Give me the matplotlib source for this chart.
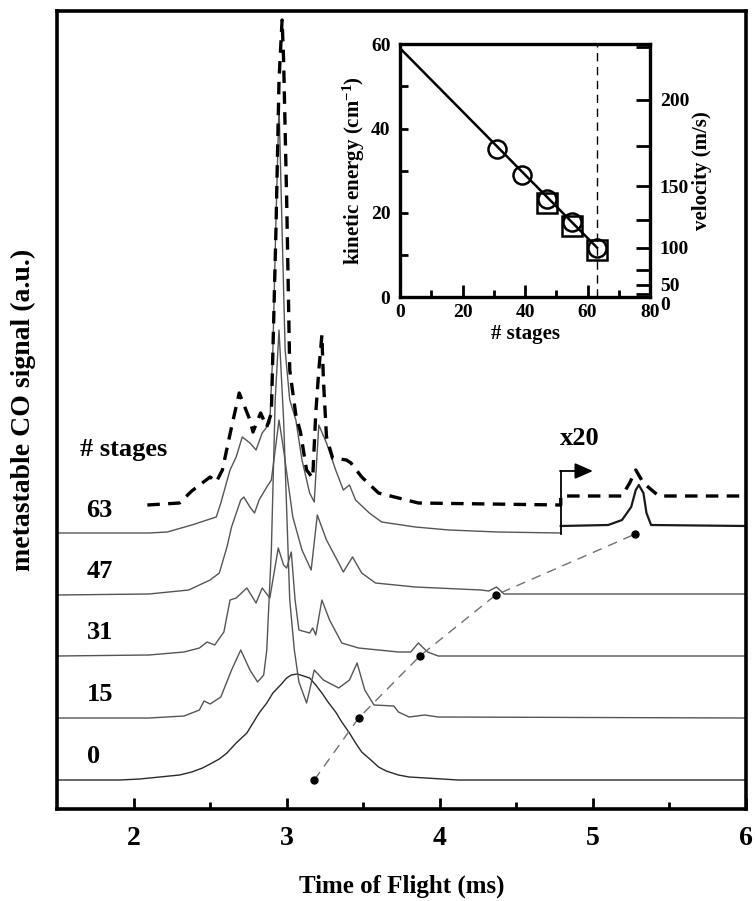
import numpy as np
import matplotlib
matplotlib.use('Agg')
import matplotlib.pyplot as plt

plt.rcParams['font.family'] = ['Liberation Serif', 'DejaVu Serif']
plt.rcParams['font.weight'] = 'bold'
plt.rcParams['axes.labelweight'] = 'bold'
plt.rcParams['mathtext.fontset'] = 'custom'
plt.rcParams['mathtext.rm'] = 'Liberation Serif:bold'
plt.rcParams['mathtext.it'] = 'Liberation Serif:bold'
plt.rcParams['mathtext.bf'] = 'Liberation Serif:bold'
plt.rcParams['mathtext.default'] = 'rm'
plt.rcParams['lines.scale_dashes'] = False

# number of decelerator stages and vertical offset of each trace
stages = ['0', '15', '31', '47', '63']
offsets = [0, 62, 124, 185, 246]

# time of flight traces (ms, signal)
t0 = [1.50, 1.91, 2.04, 2.17, 2.30, 2.38, 2.45, 2.50, 2.56, 2.61, 2.67, 2.74, 2.78, 2.82, 2.87, 2.91,
      2.96, 3.00, 3.03, 3.07, 3.11, 3.15, 3.19, 3.23, 3.27, 3.32, 3.36, 3.41, 3.45, 3.49, 3.55, 3.60,
      3.65, 3.73, 3.80, 3.91, 4.12, 6.0]
s0 = [0, 0, 1, 3, 5, 8, 12, 16, 21, 27, 37, 47, 57, 67, 77, 87,
      95, 102, 105, 106, 104, 102, 95, 87, 78, 68, 58, 47, 37, 28, 20, 13,
      9, 5, 3, 2, 0, 0]

t15 = [1.50, 2.10, 2.33, 2.43, 2.46, 2.50, 2.57, 2.64, 2.70, 2.76, 2.81, 2.85, 2.87, 2.90, 2.925, 2.95,
       2.98, 3.02, 3.05, 3.08, 3.13, 3.15, 3.18, 3.24, 3.34, 3.41, 3.46, 3.51, 3.57, 3.70, 3.73, 3.80,
       3.90, 3.99, 6.0]
s15 = [0, 0, 2, 8, 17, 14, 21, 48, 68, 48, 36, 43, 68, 168, 318, 388,
       298, 118, 68, 36, 15, 28, 48, 38, 30, 38, 55, 28, 13, 12, 6, 1,
       3, 1, 0]

t31 = [1.50, 2.10, 2.33, 2.43, 2.48, 2.53, 2.59, 2.63, 2.67, 2.74, 2.80, 2.84, 2.89, 2.945, 2.98, 3.00,
       3.03, 3.055, 3.08, 3.15, 3.17, 3.19, 3.23, 3.28, 3.36, 3.47, 3.73, 3.81, 3.86, 3.92, 3.99, 6.0]
s31 = [0, 1, 4, 8, 14, 11, 24, 56, 58, 68, 53, 68, 58, 108, 91, 88,
       104, 56, 26, 23, 28, 21, 56, 36, 13, 8, 4, 4, 13, 4, 0, 0]

t47 = [1.50, 2.10, 2.36, 2.50, 2.56, 2.61, 2.64, 2.70, 2.72, 2.76, 2.79, 2.82, 2.87, 2.90, 2.95, 2.98,
       3.04, 3.10, 3.16, 3.20, 3.26, 3.34, 3.37, 3.43, 3.49, 3.58, 3.84, 4.27, 4.32, 4.37, 4.42, 6.0]
s47 = [0, 1, 5, 15, 22, 48, 68, 95, 98, 88, 82, 95, 108, 115, 175, 145,
       78, 45, 25, 80, 55, 32, 23, 38, 22, 12, 8, 5, 4, 8, 1, 1]

t63 = [1.50, 2.10, 2.22, 2.38, 2.54, 2.57, 2.63, 2.67, 2.71, 2.76, 2.80, 2.84, 2.89, 2.91, 2.93, 2.95,
       2.97, 2.99, 3.02, 3.06, 3.10, 3.15, 3.18, 3.21, 3.26, 3.32, 3.37, 3.41, 3.45, 3.54, 3.62, 3.84,
       4.06, 4.38, 4.79]
s63 = [1, 1, 2, 9, 17, 31, 64, 77, 97, 91, 84, 101, 111, 184, 314, 429,
       304, 184, 134, 114, 74, 41, 32, 109, 91, 64, 44, 49, 34, 21, 12, 7,
       4, 2, 1]

# 63 stages, part magnified x20
t63x = [4.79, 5.10, 5.19, 5.25, 5.28, 5.30, 5.33, 5.35, 5.38, 6.0]
s63x = [8, 9, 14, 27, 44, 49, 41, 21, 9, 8]

# simulation for 63 stages (dashed)
sim_offset = 275
tsim = [2.09, 2.30, 2.38, 2.50, 2.54, 2.58, 2.64, 2.69, 2.76, 2.78, 2.83, 2.87, 2.90, 2.93, 2.95, 2.97,
        2.98, 3.00, 3.02, 3.06, 3.09, 3.13, 3.17, 3.19, 3.21, 3.23, 3.24, 3.26, 3.30, 3.39, 3.42, 3.49,
        3.60, 3.73, 3.86, 4.79]
ssim = [0, 2, 14, 28, 23, 35, 78, 112, 85, 73, 92, 78, 92, 275, 425, 485,
        445, 305, 135, 90, 73, 35, 27, 92, 135, 170, 125, 68, 47, 45, 42, 28,
        12, 7, 2, 0]
tsimx = [4.79, 5.19, 5.24, 5.28, 5.33, 5.43, 6.0]
ssimx = [9, 9, 22, 35, 22, 9, 9]

# arrival time of the decelerated packet
arrival_t = [3.18, 3.47, 3.87, 4.365, 5.277]

# inset: kinetic energy vs number of stages
ins_stages_c = [31, 39, 47, 55, 63]
ins_ke_c = [35.1, 29.1, 23.3, 17.8, 11.8]
ins_stages_s = [47, 55, 63]
ins_ke_s = [22.3, 17.0, 11.2]
fit_stages = [0, 63]
fit_ke = [59.0, 11.8]
vel_major = [0, 50, 100, 150, 200]
vel_minor = [25, 75, 125, 175, 225]


def v_to_ke(v):
    # CO (28 amu): E[cm-1] = m v^2 / (2 h c)
    return 1.1703e-3 * np.asarray(v, dtype=float) ** 2


fig = plt.figure(figsize=(7.55, 9.01), dpi=100)
ax = fig.add_axes([0.0755, 0.1021, 0.9126, 0.8857])

traces = [(t0, s0), (t15, s15), (t31, s31), (t47, s47), (t63, s63)]
for i, (t, s) in enumerate(traces):
    col = '#2a2a2a' if i == 0 else '#555555'
    ax.plot(t, np.array(s) + offsets[i], color=col, lw=1.0)
ax.plot(t63x, np.array(s63x) + offsets[4], color='#1a1a1a', lw=1.6)

ax.plot(tsim + tsimx, np.array(ssim + ssimx) + sim_offset, color='black', lw=2.4, dashes=(9, 6))

ax.plot(arrival_t, offsets, color='#707070', lw=1.0, dashes=(7, 5))
ax.plot(arrival_t, offsets, 'o', color='black', ms=5)

# x20 marker
ax.plot([4.79, 4.79], [offsets[4], 309], color='black', lw=1.3)
ax.annotate('', xy=(5.0, 309), xytext=(4.785, 309),
            arrowprops=dict(arrowstyle='-|>,head_length=0.5,head_width=0.22', color='black',
                            lw=1.3, mutation_scale=22, shrinkA=0, shrinkB=0))
ax.text(4.913, 342, 'x20', ha='center', va='center', fontsize=19)

ax.text(1.647, 331, '# stages', ha='left', va='center', fontsize=19)
for lab, off in zip(stages, offsets):
    ax.text(1.693, off + 24, lab, ha='left', va='center', fontsize=19)

ax.set_xlim(1.5, 6.0)
ax.set_ylim(-29, 769)
ax.set_xticks([2, 3, 4, 5, 6])
ax.set_xticks([2.5, 3.5, 4.5, 5.5], minor=True)
ax.set_yticks([])
ax.tick_params(axis='x', which='major', direction='in', length=8, width=2, labelsize=20, pad=12)
ax.tick_params(axis='x', which='minor', direction='in', length=5, width=2)
for sp in ax.spines.values():
    sp.set_linewidth(2.6)
ax.set_xlabel('Time of Flight (ms)', fontsize=18, labelpad=17)
ax.set_ylabel('metastable CO signal (a.u.)', fontsize=20, labelpad=15)

# inset
axi = fig.add_axes([0.530, 0.670, 0.331, 0.281])
axi.plot(fit_stages, fit_ke, color='black', lw=1.8)
axi.axvline(63, color='black', lw=1.0, dashes=(6, 4))
axi.plot(ins_stages_s, ins_ke_s, 's', mfc='none', mec='black', ms=14, mew=1.8)
axi.plot(ins_stages_c, ins_ke_c, 'o', mfc='none', mec='black', ms=13, mew=1.8)
axi.set_xlim(0, 80)
axi.set_ylim(0, 60)
axi.set_xticks([0, 20, 40, 60, 80])
axi.set_xticks([10, 30, 50, 70], minor=True)
axi.set_yticks([0, 20, 40, 60])
axi.set_yticks([10, 30, 50], minor=True)
axi.tick_params(axis='x', which='major', direction='in', length=9, width=2, labelsize=14, pad=5)
axi.tick_params(axis='x', which='minor', direction='in', length=5, width=2)
axi.tick_params(axis='y', which='both', direction='in', length=6, width=2, labelsize=14, pad=7)
for sp in axi.spines.values():
    sp.set_linewidth(2.4)
axi.set_xlabel('# stages', fontsize=15, labelpad=2)
axi.set_ylabel('kinetic energy (cm$^{-1}$)', fontsize=15, labelpad=3)

axr = axi.twinx()
axr.set_ylim(0, 60)
axr.set_yticks(v_to_ke(vel_major))
axr.set_yticklabels([str(v) for v in vel_major])
axr.set_yticks(v_to_ke(vel_minor), minor=True)
axr.tick_params(axis='y', which='both', direction='in', length=10, width=2, labelsize=14, pad=7)
# the "0" and "50" labels sit almost on top of each other in the original
for lbl in axr.get_yticklabels():
    if lbl.get_text() == '0':
        lbl.set_va('top')
axr.set_ylabel('velocity (m/s)', fontsize=15, labelpad=2)

fig.savefig('out.png', dpi=100)
